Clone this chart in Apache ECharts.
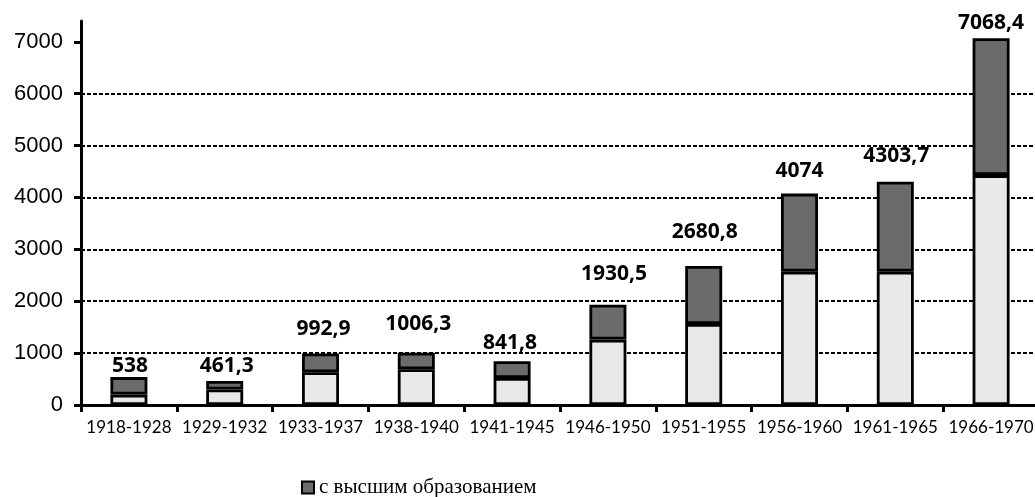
<!DOCTYPE html>
<html>
<head>
<meta charset="utf-8">
<script src="https://cdn.jsdelivr.net/npm/echarts@6/dist/echarts.min.js"></script>
<style>
    html, body { margin: 0; padding: 0; background: #fff; }
    #chart_main { width: 1035px; height: 497px; }
</style>
</head>
<body>
<div id="chart_main"></div>
<script>
var periods = ['1918-1928', '1929-1932', '1933-1937', '1938-1940', '1941-1945',
    '1946-1950', '1951-1955', '1956-1960', '1961-1965', '1966-1970'];
// lower (light) part of each bar
var otherVals = [200, 300, 630, 690, 520, 1260, 1560, 2570, 2570, 4430];
// upper (dark) part - с высшим образованием
var higherVals = [338, 161.3, 362.9, 316.3, 321.8, 670.5, 1120.8, 1504, 1733.7, 2638.4];
var totalLabels = ['538', '461,3', '992,9', '1006,3', '841,8', '1930,5', '2680,8', '4074', '4303,7', '7068,4'];
var yTicks = [0, 1000, 2000, 3000, 4000, 5000, 6000, 7000];

// label placement tweaks (px) so totals sit like in the original
var labelDx = [1, 2, 3, 2, -2, 6, 1, 0, 1, 0];
var labelGap = [1, 5, 14, 18, 8, 20, 23, 12, 15, 5];

$chart = echarts.init(document.getElementById('chart_main'));

var topData = [];
for (var i = 0; i < higherVals.length; i++) {
    topData.push({
        value: higherVals[i],
        label: {
            distance: labelGap[i],
            offset: [labelDx[i], 0],
            formatter: totalLabels[i]
        }
    });
}

var option = {
    animation: false,
    backgroundColor: '#fff',
    grid: {
        left: 81,
        right: -4,
        top: 21,
        bottom: 92,
        outerBoundsMode: 'none'
    },
    legend: {
        left: 296,
        top: 472,
        icon: 'rect',
        itemWidth: 12,
        itemHeight: 12,
        data: ['с высшим образованием'],
        itemStyle: { borderColor: '#000', borderWidth: 2 },
        textStyle: {
            fontFamily: 'Liberation Serif',
            fontSize: 21,
            color: '#000'
        }
    },
    xAxis: {
        type: 'category',
        data: periods,
        axisLine: { lineStyle: { color: '#000', width: 3 } },
        axisTick: { show: true, length: 7, lineStyle: { color: '#000', width: 3 } },
        axisLabel: {
            color: '#000',
            fontFamily: 'Lato',
            fontSize: 17,
            margin: 14,
            interval: 0
        }
    },
    yAxis: {
        type: 'value',
        min: 0,
        max: 7400,
        interval: 1000,
        axisLine: { show: true, lineStyle: { color: '#000', width: 3 } },
        axisTick: {
            show: true,
            length: 7,
            customValues: yTicks,
            lineStyle: { color: '#000', width: 3 }
        },
        axisLabel: {
            color: '#000',
            fontFamily: 'Liberation Sans',
            fontSize: 22,
            margin: 18,
            customValues: yTicks,
            formatter: function (v) { return String(v); }
        },
        splitLine: {
            show: true,
            showMaxLine: false,
            lineStyle: { color: '#000', width: 2.2, type: [4, 2] }
        }
    },
    series: [
        {
            name: 'прочие',
            type: 'bar',
            stack: 'total',
            barWidth: 37,
            data: otherVals,
            itemStyle: { color: '#e8e8e8', borderColor: '#000', borderWidth: 2.8 }
        },
        {
            name: 'с высшим образованием',
            type: 'bar',
            stack: 'total',
            barWidth: 37,
            data: topData,
            itemStyle: { color: '#6b6b6b', borderColor: '#000', borderWidth: 2.8 },
            label: {
                show: true,
                position: 'top',
                color: '#000',
                fontFamily: 'Open Sans',
                fontWeight: 'bold',
                fontSize: 21
            }
        }
    ]
};

$chart.setOption(option);
</script>
</body>
</html>
